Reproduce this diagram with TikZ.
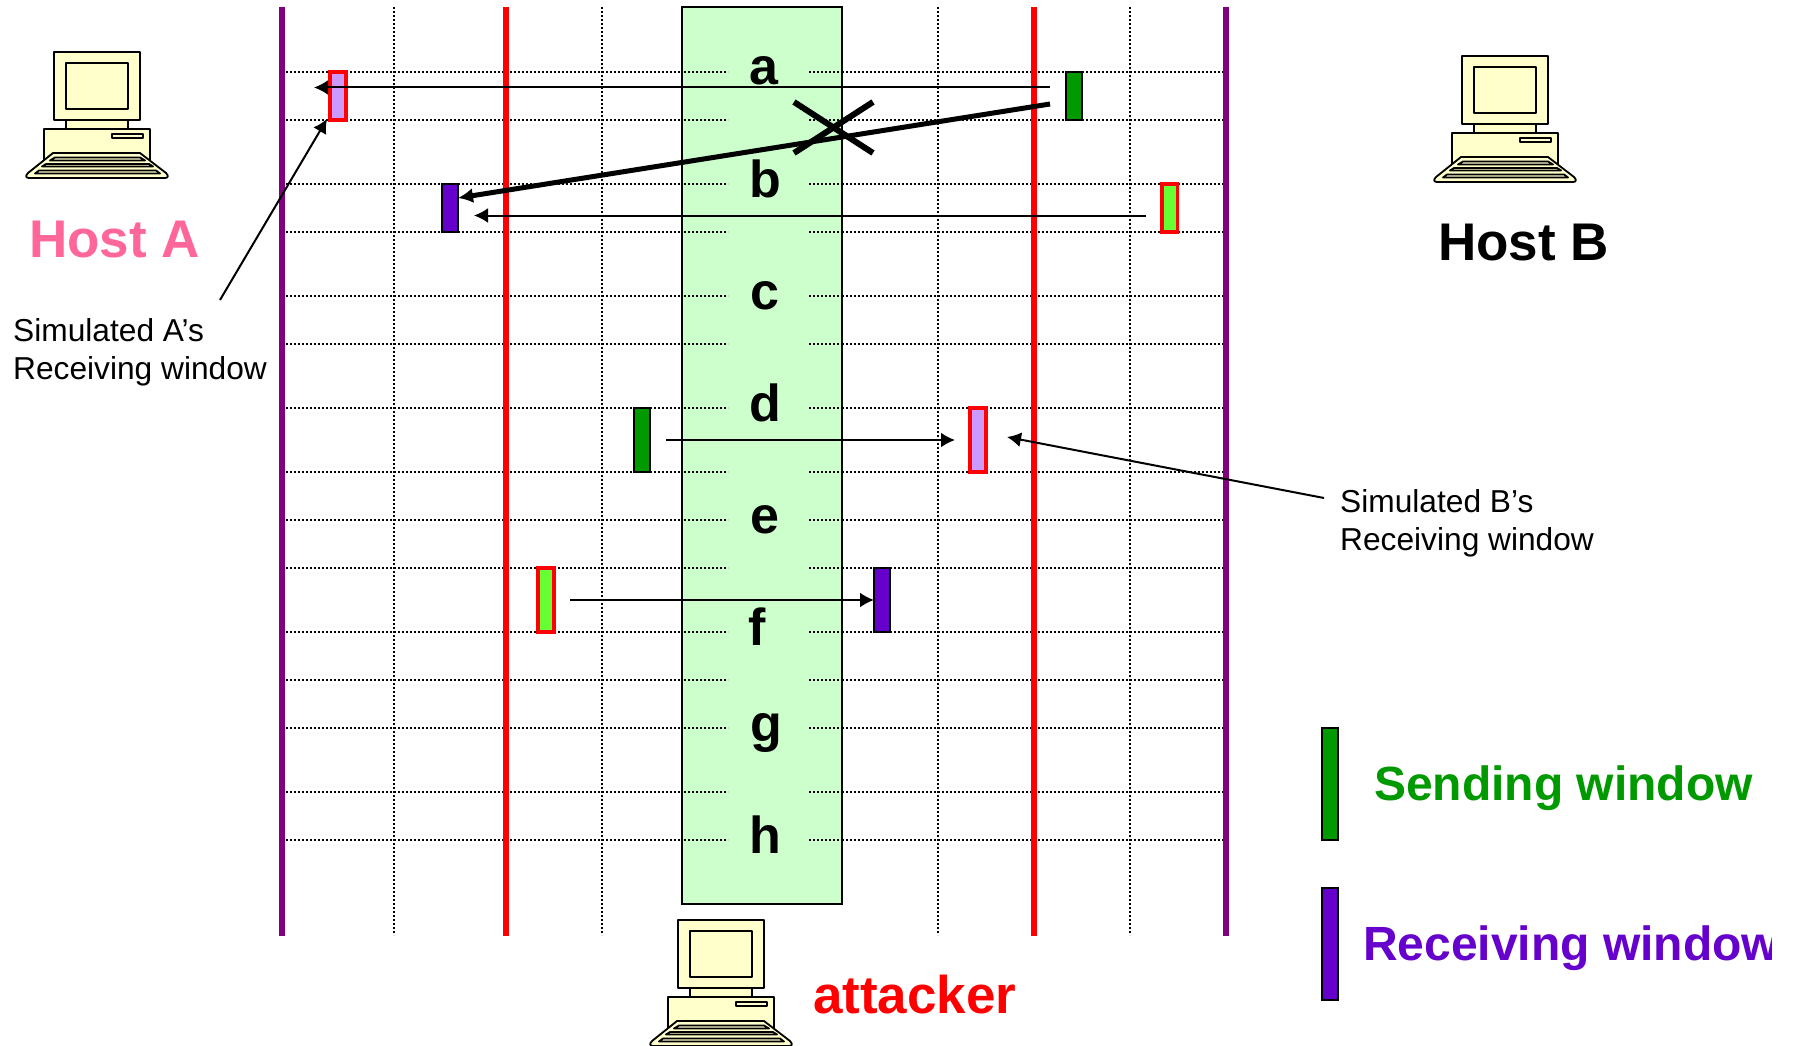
\documentclass[tikz,border=0pt]{standalone}
\usepackage{fontspec}
\setmainfont{Liberation Sans}
\usetikzlibrary{arrows.meta}
\definecolor{hostpink}{HTML}{FF6699}
\definecolor{zone}{HTML}{CCFFCC}
\definecolor{purp}{HTML}{800080}
\definecolor{cream}{HTML}{FFFFCC}
\definecolor{dgreen}{HTML}{009900}
\definecolor{lgreen}{HTML}{66FF33}
\definecolor{lilac}{HTML}{CC99FF}
\definecolor{violet}{HTML}{6600CC}
\tikzset{
  x=1pt,y=-1pt,
  dotline/.style={black,line width=1.8pt,dash pattern=on 1.8pt off 2.2pt},
  bar/.style={line width=6pt,line cap=butt},
  winbox/.style={rectangle,inner sep=0pt,outer sep=0pt,anchor=north west,line width=2pt,draw=black},
  simbox/.style={winbox,draw=red,line width=3.5pt},
  arr/.style={black,line width=2pt,-{Latex[length=14pt,width=15pt]}},
  thickarr/.style={black,line width=5pt,-{Latex[length=15pt,width=15pt]}},
  cross/.style={black,line width=6pt},
  letter/.style={font=\fontsize{52}{52}\selectfont\bfseries,anchor=base,inner sep=0pt},
  small/.style={font=\fontsize{31.7}{38}\selectfont,align=left,anchor=north west,inner sep=0pt},
  big/.style={font=\fontsize{53}{53}\selectfont\bfseries,anchor=base west,inner sep=0pt},
  legend/.style={font=\fontsize{48}{48}\selectfont\bfseries,anchor=base west,inner sep=0pt},
  pc/.style={black,line width=1.8pt,fill=cream,line join=round},
  computer/.pic={
    \draw[pc] (66,119) rectangle (128,130);
    \draw[pc] (44,129) rectangle (150,160);
    \draw[pc] (54,52) rectangle (140,120);
    \draw[pc] (66,63) rectangle (128,109);
    \draw[pc] (112,134) rectangle (143,138);
    \draw[pc] (53,153) -- (140,153) -- (166,173) .. controls (169,176) and (168,178) .. (165,178) -- (29,178) .. controls (26,178) and (25,176) .. (28,173) -- cycle;
    \draw[pc] (55,157.5) -- (140,157.5) -- (145,160.5) -- (50,160.5) -- cycle;
    \draw[pc] (46,164) -- (149,164) -- (153,166.5) -- (42,166.5) -- cycle;
    \draw[pc] (39,170.5) -- (156,170.5) -- (160,173.5) -- (35,173.5) -- cycle;
  },
}
\begin{document}
\begin{tikzpicture}
\useasboundingbox (0,0) rectangle (1794,1046);
\fill[white] (0,0) rectangle (1794,1046);
% horizontal grid
\foreach \y in {72,120,184,232,296,344,408,472,520,568,632,680,728,792,840}
  \draw[dotline] (282,\y) -- (1225,\y);
% vertical dotted
\foreach \x in {394,602,938,1130}
  \draw[dotline] (\x,7) -- (\x,935);
% attacker's zone
\node[draw=black,line width=2pt,fill=zone,inner sep=0pt,outer sep=0pt,anchor=north west,minimum width=160pt,minimum height=897pt] (zone) at (682,7) {};
\foreach \y in {72,120,184,232,296,344,408,472,520,568,632,680,728,792,840}
  \draw[dotline] (684,\y) -- (728,\y) (809,\y) -- (840,\y);
% bars
\draw[bar,purp] (282,7) -- (282,936);
\draw[bar,purp] (1226,7) -- (1226,936);
\draw[bar,red] (506,7) -- (506,936);
\draw[bar,red] (1034,7) -- (1034,936);
% letters
\node[letter] (la) at (764,85) {a};
\node[letter] (lb) at (765,197) {b};
\node[letter] (lc) at (765,309) {c};
\node[letter] (ld) at (765,421) {d};
\node[letter] (le) at (765,533) {e};
\node[letter] (lf) at (757,645) {f};
\node[letter] (lg) at (766,741) {g};
\node[letter] (lh) at (765,853) {h};
% windows
\node[simbox,fill=lilac,minimum width=16pt,minimum height=48pt] (w1) at (330,72) {};
\node[winbox,fill=dgreen,minimum width=16pt,minimum height=48pt] (w2) at (1066,72) {};
\node[winbox,fill=violet,minimum width=16pt,minimum height=48pt] (w3) at (442,184) {};
\node[simbox,fill=lgreen,minimum width=15.5pt,minimum height=48pt] (w4) at (1162,184) {};
\node[winbox,fill=dgreen,minimum width=16pt,minimum height=64pt] (w5) at (634,408) {};
\node[simbox,fill=lilac,minimum width=16pt,minimum height=64pt] (w6) at (970,408) {};
\node[simbox,fill=lgreen,minimum width=16pt,minimum height=64pt] (w7) at (538,568) {};
\node[winbox,fill=violet,minimum width=16pt,minimum height=64pt] (w8) at (874,568) {};
\node[winbox,fill=dgreen,minimum width=16pt,minimum height=112pt] (lg1) at (1322,728) {};
\node[winbox,fill=violet,minimum width=16pt,minimum height=112pt] (lg2) at (1322,888) {};
% free ends
\coordinate (a1s) at (1050,87.5);
\coordinate (a1e) at (314,87.5);
\coordinate (a2s) at (1050,104);
\coordinate (a2e) at (458,198);
\coordinate (a3s) at (1146,215.5);
\coordinate (a3e) at (474,215.5);
\coordinate (a4s) at (666,440);
\coordinate (a4e) at (955,440);
\coordinate (a5s) at (570,600);
\coordinate (a5e) at (874,600);
\coordinate (a6s) at (220,300);
\coordinate (a6e) at (327,119);
\coordinate (a7s) at (1324,498);
\coordinate (a7e) at (1007,437);
\coordinate (x1) at (794,102);
\coordinate (x2) at (873,153);
\coordinate (x3) at (873,102);
\coordinate (x4) at (794,153);
% connectors
\draw[arr] (a1s) -- (a1e);
\draw[arr] (a3s) -- (a3e);
\draw[arr] (a4s) -- (a4e);
\draw[arr] (a5s) -- (a5e);
\draw[arr] (a6s) -- (a6e);
\draw[arr] (a7s) -- (a7e);
\draw[thickarr] (a2s) -- (a2e);
\draw[cross] (x1) -- (x2);
\draw[cross] (x3) -- (x4);
% computers
\pic (pcA) at (0,0) {computer};
\pic (pcB) at (1408,4) {computer};
\pic (pcC) at (624,868) {computer};
% text
\node[big,text=hostpink] (hostA) at (29,257) {Host A};
\node[big,text=black] (hostB) at (1438,260) {Host B};
\node[big,text=red] (att) at (813,1013) {attacker};
\node[small] (simA) at (13,318) {Simulated A’s\\Receiving window};
\node[small] (simB) at (1340,489) {Simulated B’s\\Receiving window};
\node[legend,text=dgreen] (send) at (1374,800) {Sending window};
\begin{scope}
\clip (0,0) rectangle (1771,1046);
\node[legend,text=violet] (recv) at (1363,960) {Receiving window};
\end{scope}
\end{tikzpicture}
\end{document}
